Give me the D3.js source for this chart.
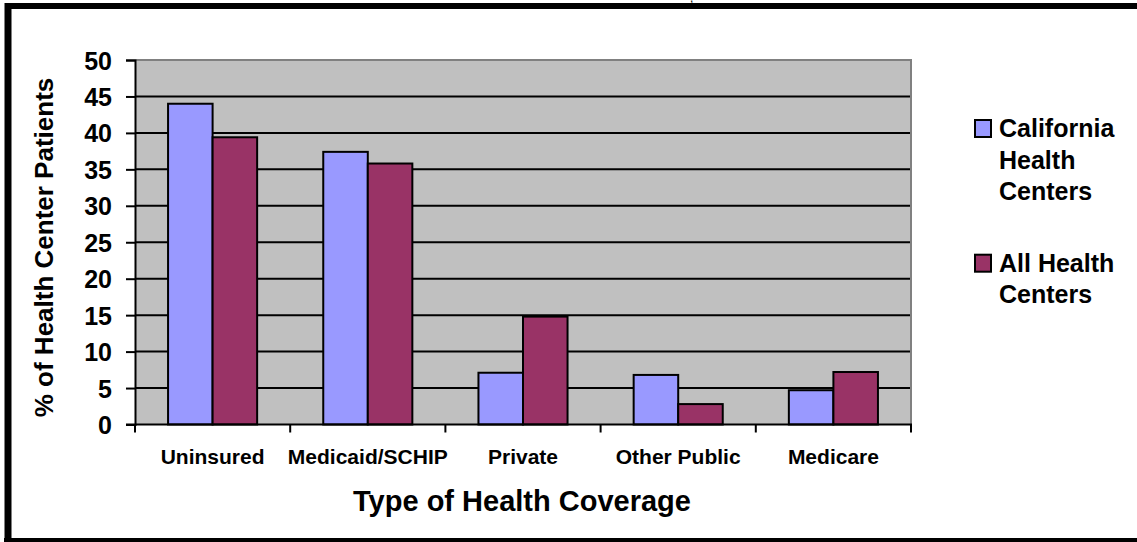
<!DOCTYPE html>
<html>
<head>
<meta charset="utf-8">
<script src="https://cdn.jsdelivr.net/npm/d3@7"></script>
<style>
  html, body { margin: 0; padding: 0; background: #fff; }
  svg { display: block; font-family: Arial, "Liberation Sans", sans-serif; font-weight: bold; }
</style>
</head>
<body>
<svg id="chart" width="1137" height="542"></svg>
<script>
// Coverage categories and the share of patients (%) in each
const categories = ["Uninsured", "Medicaid/SCHIP", "Private", "Other Public", "Medicare"];
const seriesNames = ["California Health Centers", "All Health Centers"];
const californiaValues = [44.0, 37.4, 7.1, 6.8, 4.7];
const allCentersValues = [39.4, 35.8, 14.8, 2.8, 7.2];
const yTicks = [0, 5, 10, 15, 20, 25, 30, 35, 40, 45, 50];
const legendLines = [["California", "Health", "Centers"], ["All Health", "Centers"]];

const colors = ["#9999FF", "#993366"];
const svg = d3.select("#chart");

// Outer frame
svg.append("line").attr("x1", 8).attr("x2", 1140).attr("y1", 6).attr("y2", 6)
  .attr("stroke", "#000").attr("stroke-width", 6);
svg.append("line").attr("x1", 8).attr("x2", 8).attr("y1", 3).attr("y2", 545)
  .attr("stroke", "#000").attr("stroke-width", 7);
svg.append("line").attr("x1", 4).attr("x2", 1140).attr("y1", 541).attr("y2", 541)
  .attr("stroke", "#000").attr("stroke-width", 6);
// tail of a line of text clipped by the frame's top edge
svg.append("text").attr("x", 690).attr("y", 2).attr("font-size", 12)
  .attr("font-weight", "normal").text(",");

const plot = { left: 135, right: 911, top: 60, bottom: 424.5 };

const y = d3.scaleLinear().domain([0, 50]).range([plot.bottom, plot.top]);
const x0 = d3.scaleBand().domain(categories).range([plot.left, plot.right])
  .paddingInner(0.426).paddingOuter(0.213);
const x1 = d3.scaleBand().domain(seriesNames).range([0, x0.bandwidth()]);
const xEdges = d3.scaleBand().domain(categories).range([plot.left, plot.right]);

// Plot background
svg.append("rect")
  .attr("x", plot.left).attr("y", plot.top)
  .attr("width", plot.right - plot.left).attr("height", plot.bottom - plot.top)
  .attr("fill", "#C0C0C0");

// Gridlines
svg.append("g").selectAll("line")
  .data(yTicks.filter(t => t > 0 && t < 50))
  .join("line")
  .attr("x1", plot.left).attr("x2", plot.right)
  .attr("y1", d => y(d)).attr("y2", d => y(d))
  .attr("stroke", "#000").attr("stroke-width", 2);

// Plot border (top and right)
svg.append("path")
  .attr("d", `M${plot.left},${y(50)}H${plot.right}V${plot.bottom}`)
  .attr("fill", "none").attr("stroke", "#808080").attr("stroke-width", 2);

// Bars
const rows = categories.map((c, i) => ({ cat: c, vals: [californiaValues[i], allCentersValues[i]] }));
const groups = svg.append("g").selectAll("g")
  .data(rows).join("g")
  .attr("transform", d => `translate(${x0(d.cat)},0)`);
groups.selectAll("rect")
  .data(d => d.vals.map((v, j) => ({ name: seriesNames[j], v, j })))
  .join("rect")
  .attr("x", d => x1(d.name))
  .attr("y", d => y(d.v))
  .attr("width", x1.bandwidth())
  .attr("height", d => y(0) - y(d.v))
  .attr("fill", d => colors[d.j])
  .attr("stroke", "#000").attr("stroke-width", 2);

// Y axis
const yAxis = svg.append("g")
  .attr("transform", `translate(${plot.left},0)`)
  .call(d3.axisLeft(y).tickValues(yTicks).tickSize(9).tickPadding(14).tickFormat(d3.format("d")));
yAxis.select(".domain").attr("stroke", "#000").attr("stroke-width", 2);
yAxis.selectAll(".tick line").attr("stroke", "#000").attr("stroke-width", 2);
yAxis.selectAll(".tick text")
  .attr("font-size", 25).attr("font-weight", "bold")
  .attr("font-family", "Arial, 'Liberation Sans', sans-serif")
  .attr("fill", "#000").attr("dy", "0.36em");

// X axis with ticks at category boundaries
svg.append("line")
  .attr("x1", plot.left - 9).attr("x2", plot.right + 1)
  .attr("y1", plot.bottom).attr("y2", plot.bottom)
  .attr("stroke", "#000").attr("stroke-width", 2);
const boundaries = categories.map(c => xEdges(c)).concat([plot.right]);
svg.append("g").selectAll("line")
  .data(boundaries).join("line")
  .attr("x1", d => d).attr("x2", d => d)
  .attr("y1", plot.bottom).attr("y2", plot.bottom + 8)
  .attr("stroke", "#000").attr("stroke-width", 2);

// Category labels
svg.append("g").selectAll("text")
  .data(categories).join("text")
  .attr("x", d => xEdges(d) + xEdges.bandwidth() / 2)
  .attr("y", 464)
  .attr("text-anchor", "middle")
  .attr("font-size", 21)
  .text(d => d);

// Axis titles
svg.append("text")
  .attr("x", 522).attr("y", 511)
  .attr("text-anchor", "middle")
  .attr("font-size", 29)
  .text("Type of Health Coverage");
svg.append("text")
  .attr("transform", "translate(53,247.5) rotate(-90)")
  .attr("text-anchor", "middle")
  .attr("font-size", 26)
  .text("% of Health Center Patients");

// Legend
const legendTop = [137, 271.7];
const legend = svg.append("g");
legendLines.forEach((lines, i) => {
  legend.append("rect")
    .attr("x", 975).attr("y", legendTop[i] - 17)
    .attr("width", 16).attr("height", 17)
    .attr("fill", colors[i]).attr("stroke", "#000").attr("stroke-width", 2);
  const t = legend.append("text").attr("x", 999).attr("y", legendTop[i]).attr("font-size", 25);
  lines.forEach((ln, k) => {
    t.append("tspan").attr("x", 999).attr("y", legendTop[i] + k * 31.5).text(ln);
  });
});
</script>
</body>
</html>
